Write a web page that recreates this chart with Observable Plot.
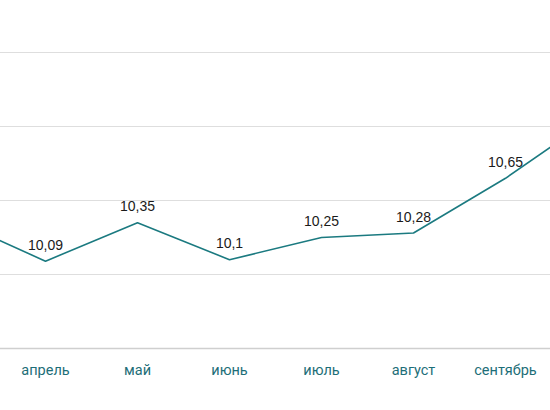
<!DOCTYPE html>
<html>
<head>
<meta charset="utf-8">
<script src="https://cdn.jsdelivr.net/npm/d3@7"></script>
<script src="https://cdn.jsdelivr.net/npm/@observablehq/plot@0.6"></script>
<style>
  html, body { margin: 0; padding: 0; background: #fff; overflow: hidden; }
  #chart svg { display: block; }
</style>
</head>
<body>
<div id="chart"></div>
<script>
const months = ["март", "апрель", "май", "июнь", "июль", "август", "сентябрь", "октябрь"];
const values = [10.37, 10.09, 10.35, 10.1, 10.25, 10.28, 10.65, 11.08];
const valueLabels = ["", "10,09", "10,35", "10,1", "10,25", "10,28", "10,65", ""];
const visibleMonths = ["апрель", "май", "июнь", "июль", "август", "сентябрь"];
const yTicks = [9.5, 10, 10.5, 11, 11.5];

const data = months.map((m, i) => ({month: m, value: values[i], label: valueLabels[i]}));

const chart = Plot.plot({
  width: 550,
  height: 410,
  marginLeft: 0,
  marginRight: 0,
  marginTop: 0,
  marginBottom: 0,
  style: {background: "#fff", overflow: "hidden"},
  x: {type: "point", domain: months, range: [-47, 597], padding: 0, axis: null},
  y: {domain: [9.5, 11.5], range: [348, 52], axis: null},
  marks: [
    Plot.ruleY(yTicks.filter(t => t !== 9.5), {stroke: "#dedede", strokeWidth: 1}),
    Plot.ruleY([9.5], {stroke: "#cfcfcf", strokeWidth: 1.5}),
    Plot.line(data, {x: "month", y: "value", stroke: "#1b7a80", strokeWidth: 1.6}),
    Plot.text(data, {x: "month", y: "value", text: "label", dy: -16, fill: "#1a1a1a",
      fontSize: 14, fontFamily: "Liberation Sans, Arial, sans-serif", textAnchor: "middle"}),
    Plot.axisX(visibleMonths, {frameAnchor: "bottom", y: 9.5, anchor: "bottom", tickSize: 0,
      tickPadding: 0, dy: 16, fontSize: 14.5, fontFamily: "Roboto, sans-serif", fill: "#1d6e78", label: null})
  ]
});
document.getElementById("chart").appendChild(chart);
</script>
</body>
</html>
